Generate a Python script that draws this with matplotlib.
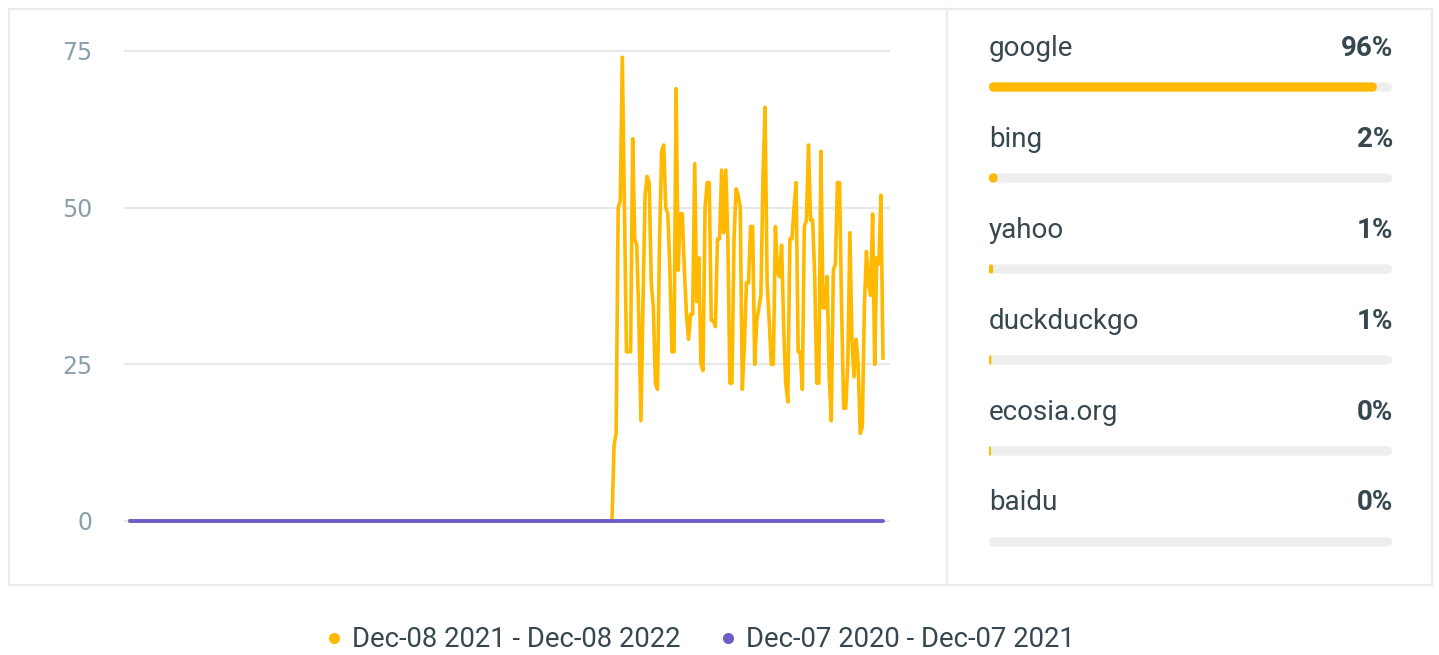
import matplotlib
matplotlib.use('Agg')
import matplotlib.pyplot as plt
from matplotlib.patches import FancyBboxPatch, Rectangle
from matplotlib.lines import Line2D

plt.rcParams['font.family'] = ['Roboto', 'DejaVu Sans']

# ── data ──────────────────────────────────────────────────────────────────────
# daily searches, Dec-08 2021 - Dec-08 2022 (zero until mid-July)
current = [0] * 233 + [
    0, 12, 14, 50, 51, 74, 50, 27, 27, 27, 61, 45, 44, 32, 16, 35, 52, 55, 54, 38,
    34, 22, 21, 45, 59, 60, 50, 49, 40, 27, 27, 69, 40, 49, 49, 40, 33, 29, 33, 33,
    57, 35, 42, 25, 24, 50, 54, 54, 32, 32, 31, 45, 45, 56, 46, 56, 45, 22, 22, 45,
    53, 52, 50, 21, 28, 38, 38, 47, 47, 25, 32, 34, 36, 55, 66, 38, 32, 25, 25, 47,
    40, 39, 44, 31, 22, 19, 45, 45, 50, 54, 27, 27, 21, 47, 48, 60, 48, 48, 39, 22,
    22, 59, 34, 34, 39, 23, 16, 40, 41, 54, 54, 34, 18, 18, 25, 46, 29, 23, 29, 25,
    14, 15, 34, 43, 38, 36, 49, 25, 42, 41, 52, 26,
]
# previous year, Dec-07 2020 - Dec-07 2021
previous = [0] * len(current)
days = list(range(len(current)))

engines = ['google', 'bing', 'yahoo', 'duckduckgo', 'ecosia.org', 'baidu']
share = [96.2, 2.1, 1.0, 0.6, 0.5, 0.0]
share_labels = ['96%', '2%', '1%', '1%', '0%', '0%']

legend_labels = ['Dec-08 2021 - Dec-08 2022', 'Dec-07 2020 - Dec-07 2021']

YELLOW = '#ffb900'
PURPLE = '#6c5fc7'
TEXT = '#37474f'
GRID = '#e8e8e8'

W, H = 1439, 655
fig = plt.figure(figsize=(W / 100, H / 100), dpi=100)

def px_axes(x0, y0, x1, y1, **kw):
    # axes placed by pixel box (top-left origin)
    return fig.add_axes([x0 / W, 1 - y1 / H, (x1 - x0) / W, (y1 - y0) / H], **kw)

# ── frame ─────────────────────────────────────────────────────────────────────
bg = px_axes(0, 0, W, H, zorder=0)
bg.set_xlim(0, W); bg.set_ylim(H, 0); bg.axis('off')
bg.add_patch(Rectangle((9, 9), 1423, 576, fill=False, edgecolor='#ececec', lw=1.6))
bg.plot([947, 947], [9, 585], color='#ececec', lw=1.6)

# ── line chart ────────────────────────────────────────────────────────────────
ax = px_axes(124, 44.7, 890, 530.4, zorder=2)
ax.patch.set_alpha(0)
ax.plot(days, current, color=YELLOW, lw=2.6, solid_joinstyle='round', zorder=3)
ax.plot(days, previous, color=PURPLE, lw=2.8, solid_capstyle='round', zorder=4)
ax.set_xlim(-2.9, 367.4)
ax.set_ylim(-1.5, 76)
ax.set_yticks([0, 25, 50, 75])
ax.set_xticks([])
ax.grid(axis='y', color=GRID, lw=1.6)
for s in ax.spines.values():
    s.set_visible(False)
ax.tick_params(axis='y', length=0, pad=23, labelsize=17, labelcolor='#8aa0ad')
for t in ax.get_yticklabels():
    t.set_family(['DejaVu Sans'])

# ── share bars ────────────────────────────────────────────────────────────────
TRACK = 403
bx = px_axes(989, 20, 1392, 560, zorder=2)
bx.set_xlim(0, TRACK); bx.set_ylim(540, 0); bx.axis('off')
for i, (name, v, lab) in enumerate(zip(engines, share, share_labels)):
    ty = 28.5 + i * 90.9
    by = 67 + i * 91
    bx.text(0, ty, name, fontsize=20, color=TEXT, va='center', ha='left')
    bx.text(TRACK + 1, ty, lab, fontsize=20, color=TEXT, va='center', ha='right',
            fontweight='bold')
    bx.add_patch(FancyBboxPatch((0, by - 4.6), TRACK, 9.2,
                                boxstyle='round,pad=0,rounding_size=4.6',
                                facecolor='#eeeeee', edgecolor='none'))
    w = v / 100 * TRACK
    if w > 0:
        bx.add_patch(FancyBboxPatch((0, by - 4.6), w, 9.2,
                                    boxstyle=f'round,pad=0,rounding_size={min(4.6, w / 2)}',
                                    facecolor=YELLOW, edgecolor='none'))

# ── legend ────────────────────────────────────────────────────────────────────
handles = [Line2D([], [], ls='none', marker='o', markersize=7, color=c)
           for c in (YELLOW, PURPLE)]
fig.legend(handles, legend_labels, loc='center', bbox_to_anchor=(0.4866, 0.023),
           ncol=2, frameon=False, fontsize=19.8, labelcolor=TEXT,
           handlelength=0.6, handletextpad=0.33, columnspacing=1.45)

plt.savefig('out.png', dpi=100)
